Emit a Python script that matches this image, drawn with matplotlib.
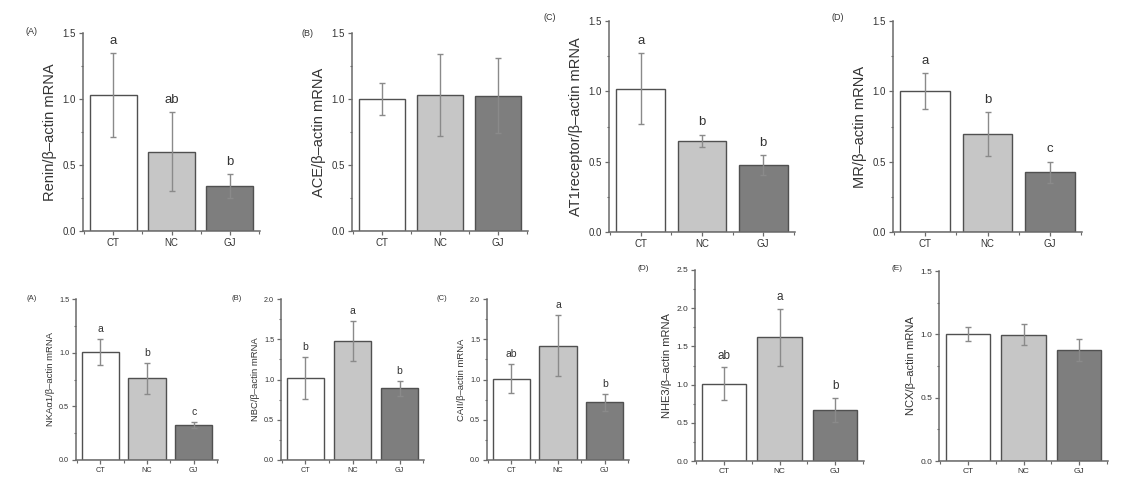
import numpy as np
import matplotlib
matplotlib.use("Agg")
import matplotlib.pyplot as plt
from matplotlib.ticker import MultipleLocator, FormatStrFormatter

plt.rcParams['font.family'] = ['Liberation Sans', 'DejaVu Sans']

groups = ["CT", "NC", "GJ"]

# top row
renin_mean = [1.03, 0.60, 0.34]
renin_err = [0.32, 0.30, 0.09]
renin_letters = ["a", "ab", "b"]

ace_mean = [1.00, 1.03, 1.025]
ace_err = [0.12, 0.31, 0.285]
ace_letters = ["", "", ""]

at1_mean = [1.02, 0.65, 0.475]
at1_err = [0.25, 0.043, 0.07]
at1_letters = ["a", "b", "b"]

mr_mean = [1.00, 0.695, 0.425]
mr_err = [0.127, 0.155, 0.075]
mr_letters = ["a", "b", "c"]

# bottom row
nka_mean = [1.005, 0.76, 0.326]
nka_err = [0.12, 0.148, 0.03]
nka_letters = ["a", "b", "c"]

nbc_mean = [1.02, 1.48, 0.89]
nbc_err = [0.257, 0.25, 0.09]
nbc_letters = ["b", "a", "b"]

caii_mean = [1.01, 1.42, 0.716]
caii_err = [0.18, 0.38, 0.105]
caii_letters = ["ab", "a", "b"]

nhe3_mean = [1.01, 1.62, 0.667]
nhe3_err = [0.215, 0.37, 0.155]
nhe3_letters = ["ab", "a", "b"]

ncx_mean = [1.00, 0.997, 0.877]
ncx_err = [0.055, 0.083, 0.087]
ncx_letters = ["", "", ""]

W, H = 1137, 493
fig = plt.figure(figsize=(W / 100, H / 100), dpi=100)

bar_colors = ["white", "#c6c6c6", "#7e7e7e"]
edge = "#505050"
axis_col = "#6a6a6a"
text_col = "#333333"


def px_axes(left, right, top, bottom):
    return fig.add_axes([left / W, 1 - bottom / H, (right - left) / W, (bottom - top) / H])


def panel(box, mean, err, letters, ylabel, ymax, tag, tag_xy, fs_tick, fs_lab, fs_let, lpad, fs_tag):
    ax = px_axes(*box)
    x = np.arange(len(groups))
    ax.bar(x, mean, width=0.8, color=bar_colors, edgecolor=edge, linewidth=1.0, zorder=2)
    ax.errorbar(x, mean, yerr=err, fmt='none', ecolor="#8a8a8a", elinewidth=1.0,
                capsize=2, capthick=1.0, zorder=3)
    off = ymax * 0.03
    for xi, m, e, l in zip(x, mean, err, letters):
        if l:
            ax.text(xi, m + e + off, l, ha='center', va='bottom', fontsize=fs_let, color=text_col)
    ax.set_xlim(-0.52, 2.52)
    ax.set_ylim(0, ymax)
    ax.set_xticks(x)
    ax.set_xticklabels(groups, fontsize=fs_tick, color=text_col)
    ax.set_xticks([-0.5, 0.5, 1.5, 2.5], minor=True)
    ax.yaxis.set_major_locator(MultipleLocator(0.5))
    ax.yaxis.set_minor_locator(MultipleLocator(0.25))
    ax.yaxis.set_major_formatter(FormatStrFormatter('%.1f'))
    for lab in ax.get_yticklabels():
        lab.set_fontsize(fs_tick)
        lab.set_color(text_col)
    ax.tick_params(which='major', direction='out', length=3, width=0.9, color=axis_col, pad=2)
    ax.tick_params(which='minor', direction='out', length=1.8, width=0.8, color=axis_col)
    ax.set_ylabel(ylabel, fontsize=fs_lab, color=text_col, labelpad=lpad)
    for s in ['top', 'right']:
        ax.spines[s].set_visible(False)
    for s in ['left', 'bottom']:
        ax.spines[s].set_color(axis_col)
        ax.spines[s].set_linewidth(1.1)
    fig.text(tag_xy[0] / W, 1 - tag_xy[1] / H, tag, fontsize=fs_tag, color=text_col,
             ha='center', va='center')
    return ax


# top row
panel((83, 260, 33, 231), renin_mean, renin_err, renin_letters, "Renin/β–actin mRNA",
      1.5, "(A)", (32, 32), 7, 10.5, 9.5, 4, 6.5)
panel((352, 528, 33, 231), ace_mean, ace_err, ace_letters, "ACE/β–actin mRNA",
      1.5, "(B)", (307, 33), 7, 10.5, 9.5, 4, 6.5)
panel((609, 795, 21, 232), at1_mean, at1_err, at1_letters, "AT1receptor/β–actin mRNA",
      1.5, "(C)", (550, 18), 7, 10.5, 9.5, 4, 6.5)
panel((893, 1082, 21, 232), mr_mean, mr_err, mr_letters, "MR/β–actin mRNA",
      1.5, "(D)", (838, 18), 7, 10.5, 9.5, 4, 6.5)

# bottom row
panel((76, 218, 299, 460), nka_mean, nka_err, nka_letters, "NKAα1/β–actin mRNA",
      1.5, "(A)", (32, 299), 5.2, 6.8, 7.5, 3, 5.5)
panel((281, 424, 299, 460), nbc_mean, nbc_err, nbc_letters, "NBC/β–actin mRNA",
      2.0, "(B)", (237, 298), 5.2, 6.8, 7.5, 3, 5.5)
panel((487, 629, 299, 460), caii_mean, caii_err, caii_letters, "CAII/β–actin mRNA",
      2.0, "(C)", (442, 298), 5.2, 6.8, 7.5, 3, 5.5)
panel((695, 864, 270, 461), nhe3_mean, nhe3_err, nhe3_letters, "NHE3/β–actin mRNA",
      2.5, "(D)", (643, 269), 6, 8, 8.5, 3, 6)
panel((939, 1108, 271, 461), ncx_mean, ncx_err, ncx_letters, "NCX/β–actin mRNA",
      1.5, "(E)", (897, 269), 6, 8, 8.5, 3, 6)

fig.savefig("out.png", dpi=100)
